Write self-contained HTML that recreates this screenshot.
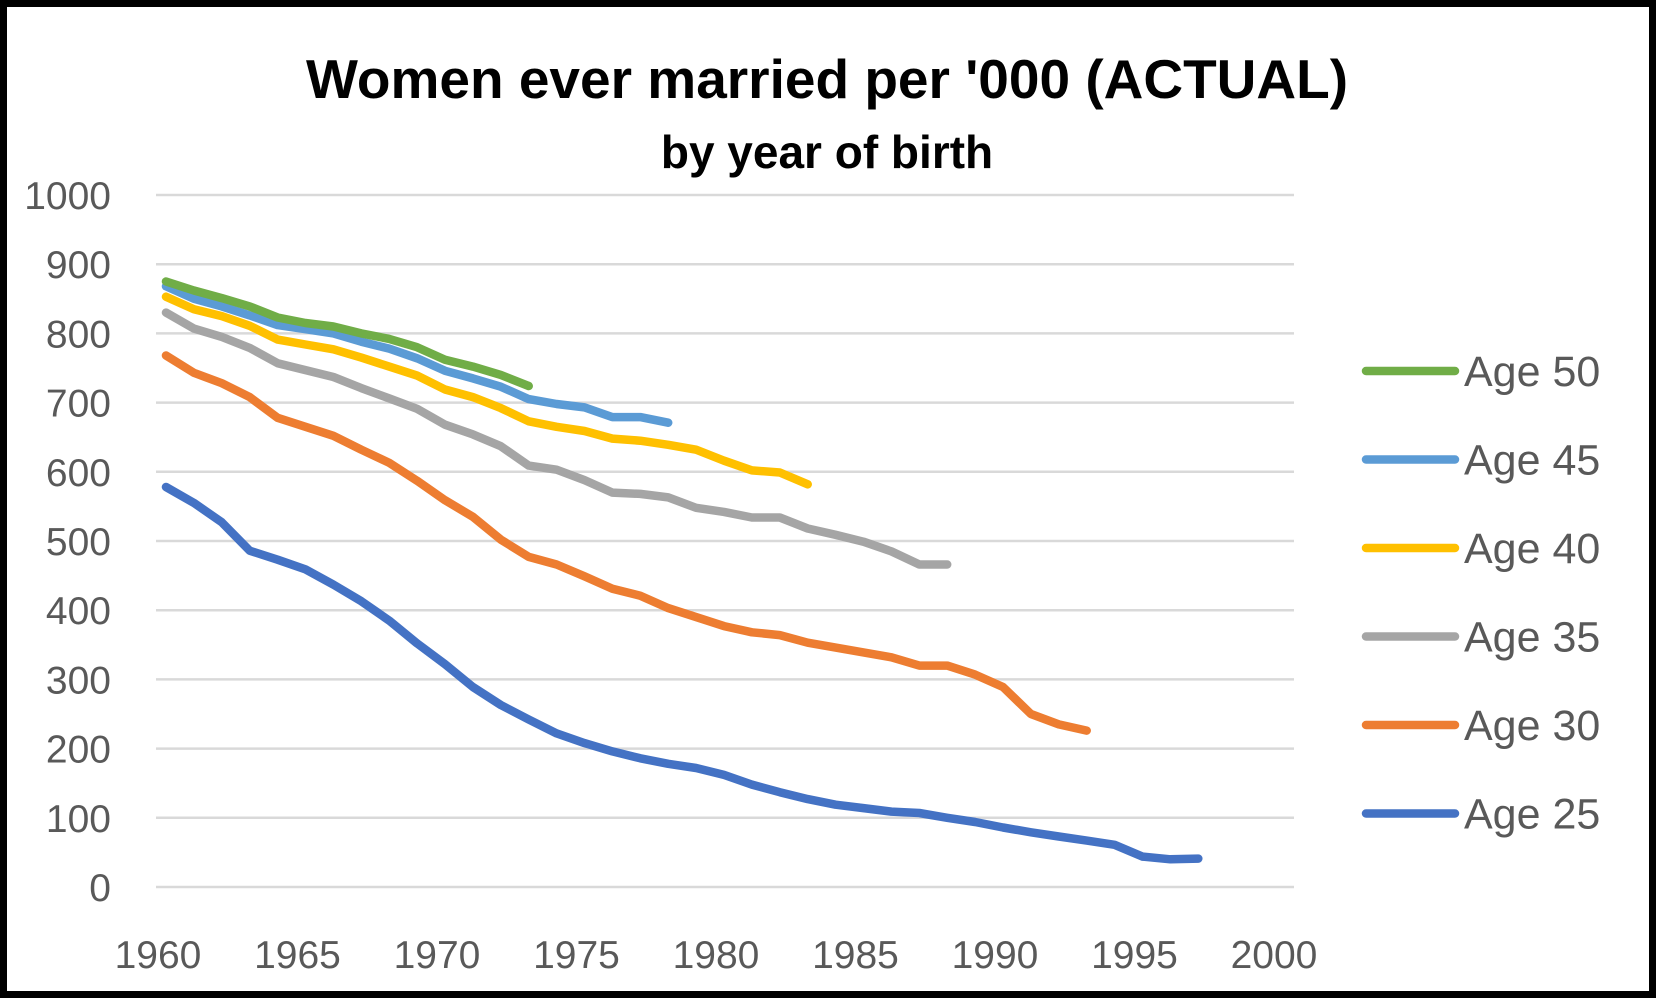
<!DOCTYPE html>
<html><head><meta charset="utf-8"><style>
html,body{margin:0;padding:0;background:#fff}
svg{display:block}
</style></head><body>
<svg id="chart" width="1656" height="998" viewBox="0 0 1656 998" xmlns="http://www.w3.org/2000/svg" font-family="'Liberation Sans', sans-serif">
<rect x="3.5" y="3.5" width="1649" height="991" fill="#fff" stroke="#000" stroke-width="7"/>
<text x="827" y="98" text-anchor="middle" font-size="55" font-weight="bold" fill="#000">Women ever married per '000 (ACTUAL)</text>
<text x="827" y="168" text-anchor="middle" font-size="46" font-weight="bold" fill="#000">by year of birth</text>
<g id="grid"></g><g id="yaxis"></g><g id="xaxis"></g><g id="series"></g><g id="legend"></g>
</svg>
<script>
const years = [];
for (let y = 1960; y <= 1997; y++) years.push(y);
const age25 = [578,555,527,486,473,459,437,413,385,352,322,289,263,242,222,208,196,186,178,172,162,148,137,127,119,114,109,107,100,94,86,79,73,67,61,44,40,41];
const age30 = [768,743,728,708,678,665,652,632,613,587,559,535,502,477,466,449,431,421,403,390,377,368,364,353,346,339,332,320,320,307,289,250,235,226];
const age35 = [830,807,795,779,757,747,737,721,706,691,668,654,637,609,603,588,570,568,563,548,542,534,534,518,509,499,485,466,466];
const age40 = [853,835,825,811,791,784,777,765,752,739,719,708,692,673,665,659,648,645,639,632,616,602,599,582];
const age45 = [868,850,839,826,812,806,800,788,778,764,746,735,723,705,698,693,679,679,671];
const age50 = [875,862,851,839,823,815,810,800,792,780,762,752,740,724];
const seriesNames = ["Age 50","Age 45","Age 40","Age 35","Age 30","Age 25"];
const yTicks = [0,100,200,300,400,500,600,700,800,900,1000];
const xTicks = [1960,1965,1970,1975,1980,1985,1990,1995,2000];

const NS = "http://www.w3.org/2000/svg";
const xs = yr => 166 + (yr - 1960) * 27.9;
const ys = v => 887 - v * 0.692;
function mk(tag, attrs, parent) {
  const e = document.createElementNS(NS, tag);
  for (const k in attrs) e.setAttribute(k, attrs[k]);
  parent.appendChild(e);
  return e;
}
const grid = document.getElementById('grid'), yax = document.getElementById('yaxis'), xax = document.getElementById('xaxis');
const ser = document.getElementById('series'), leg = document.getElementById('legend');
yTicks.forEach(t => {
  const l = mk('line', {x1:156, x2:1294, y1:ys(t), y2:ys(t), stroke:'#d9d9d9', 'stroke-width':2.5}, grid);
  
  
  const tx = mk('text', {x:111, y:ys(t)+14, 'text-anchor':'end', 'font-size':39, fill:'#595959'}, yax);
  tx.textContent = t;
  
  
});
xTicks.forEach(t => {
  const tx = mk('text', {x:xs(t)-8, y:968, 'text-anchor':'middle', 'font-size':39, fill:'#595959'}, xax);
  tx.textContent = t;
  
  
});
const data = [age50, age45, age40, age35, age30, age25];
const colors = ['#70AD47','#5B9BD5','#FFC000','#A5A5A5','#ED7D31','#4472C4'];
for (let i = data.length - 1; i >= 0; i--) {
  const pts = data[i].map((v, j) => xs(years[j]).toFixed(1) + ',' + ys(v).toFixed(1)).join(' ');
  const p = mk('polyline', {points:pts, fill:'none', stroke:colors[i], 'stroke-width':8.5, 'stroke-linecap':'round', 'stroke-linejoin':'round'}, ser);
  
  
}
seriesNames.forEach((n, i) => {
  const y = 371 + i * 88.5;
  const g = mk('g', {}, leg);
  
  
  mk('line', {x1:1366, x2:1455, y1:y, y2:y, stroke:colors[i], 'stroke-width':8.5, 'stroke-linecap':'round'}, g);
  const t = mk('text', {x:1464, y:y+15, 'font-size':43, fill:'#595959'}, g);
  t.textContent = n;
});
</script>
</body></html>
